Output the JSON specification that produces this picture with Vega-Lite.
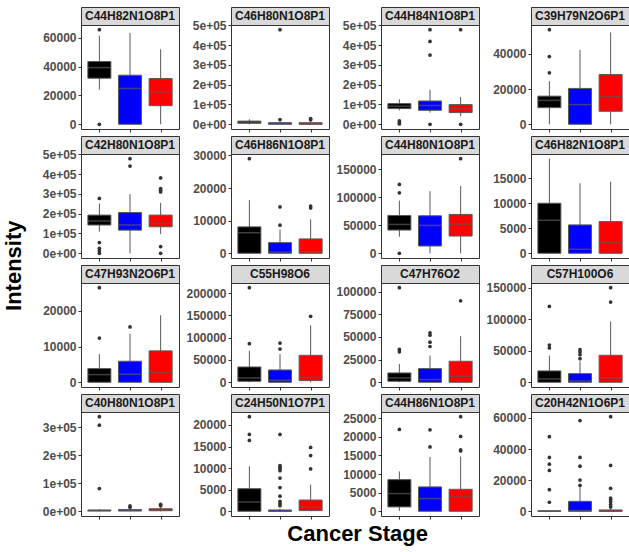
{
"$schema": "https://vega.github.io/schema/vega-lite/v6.json",
"padding": {"left": 2, "top": 6, "right": 2, "bottom": 2},
"background": "white",
"title": {"text": "Intensity", "orient": "left", "anchor": "middle", "font": "Liberation Sans", "fontSize": 22, "fontWeight": "bold", "color": "#000000", "offset": 16, "dx": 10},
"datasets": {"d": [
{"lipid":"C44H82N1O8P1","stage":"Stage I","lo":24000,"q1":32000,"med":39400,"q3":43600,"hi":61600},
{"lipid":"C44H82N1O8P1","stage":"Stage II","lo":0,"q1":0,"med":24900,"q3":34100,"hi":63500},
{"lipid":"C44H82N1O8P1","stage":"Stage III","lo":0,"q1":12900,"med":22600,"q3":31800,"hi":52100},
{"lipid":"C46H80N1O8P1","stage":"Stage I","lo":0,"q1":5000,"med":10000,"q3":16000,"hi":25000},
{"lipid":"C46H80N1O8P1","stage":"Stage II","lo":0,"q1":0,"med":4000,"q3":8000,"hi":14000},
{"lipid":"C46H80N1O8P1","stage":"Stage III","lo":0,"q1":0,"med":2000,"q3":8000,"hi":16000},
{"lipid":"C44H84N1O8P1","stage":"Stage I","lo":70000,"q1":79300,"med":91000,"q3":104500,"hi":126000},
{"lipid":"C44H84N1O8P1","stage":"Stage II","lo":59000,"q1":70700,"med":95000,"q3":117700,"hi":175000},
{"lipid":"C44H84N1O8P1","stage":"Stage III","lo":40000,"q1":59000,"med":77300,"q3":99500,"hi":138000},
{"lipid":"C39H79N2O6P1","stage":"Stage I","lo":0,"q1":9460,"med":13600,"q3":16000,"hi":24500},
{"lipid":"C39H79N2O6P1","stage":"Stage II","lo":0,"q1":0,"med":11200,"q3":20400,"hi":42300},
{"lipid":"C39H79N2O6P1","stage":"Stage III","lo":0,"q1":7400,"med":15700,"q3":28300,"hi":52300},
{"lipid":"C42H80N1O8P1","stage":"Stage I","lo":109000,"q1":143000,"med":163000,"q3":193000,"hi":252000},
{"lipid":"C42H80N1O8P1","stage":"Stage II","lo":0,"q1":117000,"med":143000,"q3":206000,"hi":299000},
{"lipid":"C42H80N1O8P1","stage":"Stage III","lo":97000,"q1":134000,"med":151000,"q3":193000,"hi":255000},
{"lipid":"C46H86N1O8P1","stage":"Stage I","lo":0,"q1":0,"med":6300,"q3":8100,"hi":16300},
{"lipid":"C46H86N1O8P1","stage":"Stage II","lo":0,"q1":0,"med":300,"q3":3260,"hi":7300},
{"lipid":"C46H86N1O8P1","stage":"Stage III","lo":0,"q1":0,"med":500,"q3":4400,"hi":10400},
{"lipid":"C44H80N1O8P1","stage":"Stage I","lo":29700,"q1":41500,"med":51600,"q3":67600,"hi":94300},
{"lipid":"C44H80N1O8P1","stage":"Stage II","lo":0,"q1":13000,"med":49800,"q3":67000,"hi":111000},
{"lipid":"C44H80N1O8P1","stage":"Stage III","lo":0,"q1":30800,"med":52200,"q3":69400,"hi":120400},
{"lipid":"C46H82N1O8P1","stage":"Stage I","lo":0,"q1":0,"med":6600,"q3":10000,"hi":18900},
{"lipid":"C46H82N1O8P1","stage":"Stage II","lo":0,"q1":0,"med":800,"q3":5670,"hi":14000},
{"lipid":"C46H82N1O8P1","stage":"Stage III","lo":0,"q1":0,"med":2130,"q3":6330,"hi":14300},
{"lipid":"C47H93N2O6P1","stage":"Stage I","lo":0,"q1":0,"med":2150,"q3":3830,"hi":7900},
{"lipid":"C47H93N2O6P1","stage":"Stage II","lo":0,"q1":0,"med":2240,"q3":5900,"hi":13600},
{"lipid":"C47H93N2O6P1","stage":"Stage III","lo":0,"q1":0,"med":2700,"q3":8800,"hi":18800},
{"lipid":"C55H98O6","stage":"Stage I","lo":0,"q1":2200,"med":9700,"q3":34300,"hi":70900},
{"lipid":"C55H98O6","stage":"Stage II","lo":0,"q1":0,"med":4500,"q3":27600,"hi":63400},
{"lipid":"C55H98O6","stage":"Stage III","lo":0,"q1":3700,"med":11000,"q3":60400,"hi":127600},
{"lipid":"C47H76O2","stage":"Stage I","lo":0,"q1":1100,"med":4800,"q3":10300,"hi":20300},
{"lipid":"C47H76O2","stage":"Stage II","lo":0,"q1":0,"med":3000,"q3":15100,"hi":29500},
{"lipid":"C47H76O2","stage":"Stage III","lo":0,"q1":0,"med":6600,"q3":23200,"hi":50900},
{"lipid":"C57H100O6","stage":"Stage I","lo":0,"q1":0,"med":5300,"q3":18000,"hi":42200},
{"lipid":"C57H100O6","stage":"Stage II","lo":0,"q1":0,"med":2000,"q3":13700,"hi":33300},
{"lipid":"C57H100O6","stage":"Stage III","lo":0,"q1":0,"med":6900,"q3":42800,"hi":96600},
{"lipid":"C40H80N1O8P1","stage":"Stage I","lo":0,"q1":1000,"med":2500,"q3":4500,"hi":8000},
{"lipid":"C40H80N1O8P1","stage":"Stage II","lo":0,"q1":1000,"med":3000,"q3":6000,"hi":10000},
{"lipid":"C40H80N1O8P1","stage":"Stage III","lo":0,"q1":2000,"med":4500,"q3":9000,"hi":15000},
{"lipid":"C24H50N1O7P1","stage":"Stage I","lo":0,"q1":0,"med":2150,"q3":5230,"hi":10400},
{"lipid":"C24H50N1O7P1","stage":"Stage II","lo":0,"q1":0,"med":0,"q3":300,"hi":600},
{"lipid":"C24H50N1O7P1","stage":"Stage III","lo":0,"q1":150,"med":900,"q3":2600,"hi":6150},
{"lipid":"C44H86N1O8P1","stage":"Stage I","lo":100,"q1":1170,"med":4750,"q3":8500,"hi":10700},
{"lipid":"C44H86N1O8P1","stage":"Stage II","lo":0,"q1":0,"med":3400,"q3":6540,"hi":14600},
{"lipid":"C44H86N1O8P1","stage":"Stage III","lo":0,"q1":0,"med":3850,"q3":5900,"hi":14700},
{"lipid":"C20H42N1O6P1","stage":"Stage I","lo":0,"q1":0,"med":0,"q3":300,"hi":700},
{"lipid":"C20H42N1O6P1","stage":"Stage II","lo":0,"q1":0,"med":400,"q3":6400,"hi":15400},
{"lipid":"C20H42N1O6P1","stage":"Stage III","lo":0,"q1":0,"med":0,"q3":850,"hi":2000},
{"lipid":"C44H82N1O8P1","stage":"Stage I","value":65700},
{"lipid":"C44H82N1O8P1","stage":"Stage I","value":0},
{"lipid":"C46H80N1O8P1","stage":"Stage II","value":478000},
{"lipid":"C46H80N1O8P1","stage":"Stage II","value":24000},
{"lipid":"C46H80N1O8P1","stage":"Stage III","value":23000},
{"lipid":"C46H80N1O8P1","stage":"Stage III","value":29000},
{"lipid":"C44H84N1O8P1","stage":"Stage I","value":16700},
{"lipid":"C44H84N1O8P1","stage":"Stage I","value":8000},
{"lipid":"C44H84N1O8P1","stage":"Stage I","value":1500},
{"lipid":"C44H84N1O8P1","stage":"Stage II","value":478000},
{"lipid":"C44H84N1O8P1","stage":"Stage II","value":419000},
{"lipid":"C44H84N1O8P1","stage":"Stage II","value":350000},
{"lipid":"C44H84N1O8P1","stage":"Stage II","value":0},
{"lipid":"C44H84N1O8P1","stage":"Stage III","value":478000},
{"lipid":"C44H84N1O8P1","stage":"Stage III","value":0},
{"lipid":"C39H79N2O6P1","stage":"Stage I","value":53800},
{"lipid":"C39H79N2O6P1","stage":"Stage I","value":38500},
{"lipid":"C39H79N2O6P1","stage":"Stage I","value":29300},
{"lipid":"C42H80N1O8P1","stage":"Stage I","value":277000},
{"lipid":"C42H80N1O8P1","stage":"Stage I","value":54000},
{"lipid":"C42H80N1O8P1","stage":"Stage I","value":25000},
{"lipid":"C42H80N1O8P1","stage":"Stage I","value":12000},
{"lipid":"C42H80N1O8P1","stage":"Stage I","value":0},
{"lipid":"C42H80N1O8P1","stage":"Stage II","value":478000},
{"lipid":"C42H80N1O8P1","stage":"Stage II","value":441000},
{"lipid":"C42H80N1O8P1","stage":"Stage III","value":381000},
{"lipid":"C42H80N1O8P1","stage":"Stage III","value":327000},
{"lipid":"C42H80N1O8P1","stage":"Stage III","value":319000},
{"lipid":"C42H80N1O8P1","stage":"Stage III","value":310000},
{"lipid":"C42H80N1O8P1","stage":"Stage III","value":34000},
{"lipid":"C42H80N1O8P1","stage":"Stage III","value":0},
{"lipid":"C46H86N1O8P1","stage":"Stage I","value":29000},
{"lipid":"C46H86N1O8P1","stage":"Stage II","value":8600},
{"lipid":"C46H86N1O8P1","stage":"Stage II","value":14200},
{"lipid":"C46H86N1O8P1","stage":"Stage III","value":13900},
{"lipid":"C46H86N1O8P1","stage":"Stage III","value":14500},
{"lipid":"C44H80N1O8P1","stage":"Stage I","value":123000},
{"lipid":"C44H80N1O8P1","stage":"Stage I","value":108000},
{"lipid":"C44H80N1O8P1","stage":"Stage I","value":0},
{"lipid":"C44H80N1O8P1","stage":"Stage III","value":169000},
{"lipid":"C47H93N2O6P1","stage":"Stage I","value":12400},
{"lipid":"C47H93N2O6P1","stage":"Stage I","value":26500},
{"lipid":"C47H93N2O6P1","stage":"Stage II","value":15500},
{"lipid":"C55H98O6","stage":"Stage I","value":86600},
{"lipid":"C55H98O6","stage":"Stage I","value":212000},
{"lipid":"C55H98O6","stage":"Stage II","value":74600},
{"lipid":"C55H98O6","stage":"Stage II","value":88000},
{"lipid":"C55H98O6","stage":"Stage III","value":147800},
{"lipid":"C47H76O2","stage":"Stage I","value":33600},
{"lipid":"C47H76O2","stage":"Stage I","value":36200},
{"lipid":"C47H76O2","stage":"Stage I","value":104400},
{"lipid":"C47H76O2","stage":"Stage II","value":39500},
{"lipid":"C47H76O2","stage":"Stage II","value":44300},
{"lipid":"C47H76O2","stage":"Stage II","value":52000},
{"lipid":"C47H76O2","stage":"Stage II","value":54600},
{"lipid":"C47H76O2","stage":"Stage III","value":90000},
{"lipid":"C57H100O6","stage":"Stage I","value":54400},
{"lipid":"C57H100O6","stage":"Stage I","value":59100},
{"lipid":"C57H100O6","stage":"Stage I","value":120400},
{"lipid":"C57H100O6","stage":"Stage II","value":37500},
{"lipid":"C57H100O6","stage":"Stage II","value":43800},
{"lipid":"C57H100O6","stage":"Stage II","value":48000},
{"lipid":"C57H100O6","stage":"Stage II","value":51700},
{"lipid":"C57H100O6","stage":"Stage III","value":127200},
{"lipid":"C57H100O6","stage":"Stage III","value":150000},
{"lipid":"C40H80N1O8P1","stage":"Stage I","value":81000},
{"lipid":"C40H80N1O8P1","stage":"Stage I","value":307000},
{"lipid":"C40H80N1O8P1","stage":"Stage I","value":337000},
{"lipid":"C40H80N1O8P1","stage":"Stage II","value":14000},
{"lipid":"C40H80N1O8P1","stage":"Stage II","value":19000},
{"lipid":"C40H80N1O8P1","stage":"Stage III","value":20000},
{"lipid":"C40H80N1O8P1","stage":"Stage III","value":25000},
{"lipid":"C24H50N1O7P1","stage":"Stage I","value":16400},
{"lipid":"C24H50N1O7P1","stage":"Stage I","value":17800},
{"lipid":"C24H50N1O7P1","stage":"Stage I","value":21900},
{"lipid":"C24H50N1O7P1","stage":"Stage II","value":1300},
{"lipid":"C24H50N1O7P1","stage":"Stage II","value":1800},
{"lipid":"C24H50N1O7P1","stage":"Stage II","value":2300},
{"lipid":"C24H50N1O7P1","stage":"Stage II","value":3500},
{"lipid":"C24H50N1O7P1","stage":"Stage II","value":5500},
{"lipid":"C24H50N1O7P1","stage":"Stage II","value":7700},
{"lipid":"C24H50N1O7P1","stage":"Stage II","value":9400},
{"lipid":"C24H50N1O7P1","stage":"Stage II","value":9800},
{"lipid":"C24H50N1O7P1","stage":"Stage II","value":10200},
{"lipid":"C24H50N1O7P1","stage":"Stage II","value":10600},
{"lipid":"C24H50N1O7P1","stage":"Stage II","value":17800},
{"lipid":"C24H50N1O7P1","stage":"Stage III","value":9800},
{"lipid":"C24H50N1O7P1","stage":"Stage III","value":12900},
{"lipid":"C24H50N1O7P1","stage":"Stage III","value":14800},
{"lipid":"C44H86N1O8P1","stage":"Stage I","value":22000},
{"lipid":"C44H86N1O8P1","stage":"Stage II","value":17300},
{"lipid":"C44H86N1O8P1","stage":"Stage II","value":21900},
{"lipid":"C44H86N1O8P1","stage":"Stage III","value":16200},
{"lipid":"C44H86N1O8P1","stage":"Stage III","value":16500},
{"lipid":"C44H86N1O8P1","stage":"Stage III","value":20100},
{"lipid":"C44H86N1O8P1","stage":"Stage III","value":25400},
{"lipid":"C20H42N1O6P1","stage":"Stage I","value":5800},
{"lipid":"C20H42N1O6P1","stage":"Stage I","value":13900},
{"lipid":"C20H42N1O6P1","stage":"Stage I","value":26300},
{"lipid":"C20H42N1O6P1","stage":"Stage I","value":30300},
{"lipid":"C20H42N1O6P1","stage":"Stage I","value":34600},
{"lipid":"C20H42N1O6P1","stage":"Stage I","value":48000},
{"lipid":"C20H42N1O6P1","stage":"Stage II","value":16600},
{"lipid":"C20H42N1O6P1","stage":"Stage II","value":20100},
{"lipid":"C20H42N1O6P1","stage":"Stage II","value":29000},
{"lipid":"C20H42N1O6P1","stage":"Stage II","value":34600},
{"lipid":"C20H42N1O6P1","stage":"Stage II","value":58300},
{"lipid":"C20H42N1O6P1","stage":"Stage III","value":2800},
{"lipid":"C20H42N1O6P1","stage":"Stage III","value":4300},
{"lipid":"C20H42N1O6P1","stage":"Stage III","value":6000},
{"lipid":"C20H42N1O6P1","stage":"Stage III","value":7500},
{"lipid":"C20H42N1O6P1","stage":"Stage III","value":8500},
{"lipid":"C20H42N1O6P1","stage":"Stage III","value":14800},
{"lipid":"C20H42N1O6P1","stage":"Stage III","value":29500},
{"lipid":"C20H42N1O6P1","stage":"Stage III","value":60800}
]},
"vconcat": [{
"title": {"text": "Cancer Stage", "orient": "bottom", "anchor": "middle", "font": "Liberation Sans", "fontSize": 22, "fontWeight": "bold", "color": "#000000", "offset": 4, "dx": 22},
"columns": 4,
"spacing": {"row": 2, "column": 5},
"concat": [
{"vconcat": [
 {"width": 98, "height": 18, "view": {"fill": "#d9d9d9", "stroke": "#333333"}, "data": {"name": "d"}, "transform": [{"filter": "datum.lipid === 'C44H82N1O8P1' && datum.stage === 'Stage I' && isValid(datum.med)"}], "mark": {"type": "text", "font": "Liberation Sans", "fontSize": 12, "fontWeight": "bold", "color": "#1a1a1a"}, "encoding": {"text": {"field": "lipid"}}},
 {"width": 98, "height": 104, "data": {"name": "d"}, "transform": [{"filter": "datum.lipid === 'C44H82N1O8P1'"}], "layer": [
  {"mark": {"type": "rule", "color": "#595959"}, "encoding": {"x": {"field": "stage", "type": "nominal", "scale": {"type": "point", "padding": 0.6, "domain": ["Stage I", "Stage II", "Stage III"]}, "axis": {"title": null}}, "y": {"field": "lo", "type": "quantitative", "scale": {"domain": [-3285, 68985], "nice": false, "zero": false}, "axis": {"title": null, "tickCount": 20, "labelOverlap": false, "values": [0, 20000, 40000, 60000], "format": "d"}}, "y2": {"field": "hi"}}},
  {"mark": {"type": "bar", "size": 23, "stroke": "#595959", "strokeWidth": 1}, "encoding": {"x": {"field": "stage", "type": "nominal"}, "y": {"field": "q1", "type": "quantitative"}, "y2": {"field": "q3"}, "fill": {"field": "stage", "type": "nominal", "scale": {"domain": ["Stage I", "Stage II", "Stage III"], "range": ["#000000", "#0000ff", "#ff0000"]}, "legend": null}}},
  {"mark": {"type": "tick", "size": 23, "thickness": 1.5, "color": "#595959"}, "encoding": {"x": {"field": "stage", "type": "nominal"}, "y": {"field": "med", "type": "quantitative"}}},
  {"mark": {"type": "point", "filled": true, "size": 14, "color": "#333333", "opacity": 1}, "encoding": {"x": {"field": "stage", "type": "nominal"}, "y": {"field": "value", "type": "quantitative"}}}
 ]}
], "spacing": 0, "bounds": "flush"},
{"vconcat": [
 {"width": 98, "height": 18, "view": {"fill": "#d9d9d9", "stroke": "#333333"}, "data": {"name": "d"}, "transform": [{"filter": "datum.lipid === 'C46H80N1O8P1' && datum.stage === 'Stage I' && isValid(datum.med)"}], "mark": {"type": "text", "font": "Liberation Sans", "fontSize": 12, "fontWeight": "bold", "color": "#1a1a1a"}, "encoding": {"text": {"field": "lipid"}}},
 {"width": 98, "height": 104, "data": {"name": "d"}, "transform": [{"filter": "datum.lipid === 'C46H80N1O8P1'"}], "layer": [
  {"mark": {"type": "rule", "color": "#595959"}, "encoding": {"x": {"field": "stage", "type": "nominal", "scale": {"type": "point", "padding": 0.6, "domain": ["Stage I", "Stage II", "Stage III"]}, "axis": {"title": null}}, "y": {"field": "lo", "type": "quantitative", "scale": {"domain": [-23900, 501900], "nice": false, "zero": false}, "axis": {"title": null, "tickCount": 20, "labelOverlap": false, "values": [0, 100000, 200000, 300000, 400000, 500000], "labelExpr": "datum.value === 0 ? '0e+00' : (datum.value / 100000) + 'e+05'"}}, "y2": {"field": "hi"}}},
  {"mark": {"type": "bar", "size": 23, "stroke": "#595959", "strokeWidth": 1}, "encoding": {"x": {"field": "stage", "type": "nominal"}, "y": {"field": "q1", "type": "quantitative"}, "y2": {"field": "q3"}, "fill": {"field": "stage", "type": "nominal", "scale": {"domain": ["Stage I", "Stage II", "Stage III"], "range": ["#000000", "#0000ff", "#ff0000"]}, "legend": null}}},
  {"mark": {"type": "tick", "size": 23, "thickness": 1.5, "color": "#595959"}, "encoding": {"x": {"field": "stage", "type": "nominal"}, "y": {"field": "med", "type": "quantitative"}}},
  {"mark": {"type": "point", "filled": true, "size": 14, "color": "#333333", "opacity": 1}, "encoding": {"x": {"field": "stage", "type": "nominal"}, "y": {"field": "value", "type": "quantitative"}}}
 ]}
], "spacing": 0, "bounds": "flush"},
{"vconcat": [
 {"width": 98, "height": 18, "view": {"fill": "#d9d9d9", "stroke": "#333333"}, "data": {"name": "d"}, "transform": [{"filter": "datum.lipid === 'C44H84N1O8P1' && datum.stage === 'Stage I' && isValid(datum.med)"}], "mark": {"type": "text", "font": "Liberation Sans", "fontSize": 12, "fontWeight": "bold", "color": "#1a1a1a"}, "encoding": {"text": {"field": "lipid"}}},
 {"width": 98, "height": 104, "data": {"name": "d"}, "transform": [{"filter": "datum.lipid === 'C44H84N1O8P1'"}], "layer": [
  {"mark": {"type": "rule", "color": "#595959"}, "encoding": {"x": {"field": "stage", "type": "nominal", "scale": {"type": "point", "padding": 0.6, "domain": ["Stage I", "Stage II", "Stage III"]}, "axis": {"title": null}}, "y": {"field": "lo", "type": "quantitative", "scale": {"domain": [-23900, 501900], "nice": false, "zero": false}, "axis": {"title": null, "tickCount": 20, "labelOverlap": false, "values": [0, 100000, 200000, 300000, 400000, 500000], "labelExpr": "datum.value === 0 ? '0e+00' : (datum.value / 100000) + 'e+05'"}}, "y2": {"field": "hi"}}},
  {"mark": {"type": "bar", "size": 23, "stroke": "#595959", "strokeWidth": 1}, "encoding": {"x": {"field": "stage", "type": "nominal"}, "y": {"field": "q1", "type": "quantitative"}, "y2": {"field": "q3"}, "fill": {"field": "stage", "type": "nominal", "scale": {"domain": ["Stage I", "Stage II", "Stage III"], "range": ["#000000", "#0000ff", "#ff0000"]}, "legend": null}}},
  {"mark": {"type": "tick", "size": 23, "thickness": 1.5, "color": "#595959"}, "encoding": {"x": {"field": "stage", "type": "nominal"}, "y": {"field": "med", "type": "quantitative"}}},
  {"mark": {"type": "point", "filled": true, "size": 14, "color": "#333333", "opacity": 1}, "encoding": {"x": {"field": "stage", "type": "nominal"}, "y": {"field": "value", "type": "quantitative"}}}
 ]}
], "spacing": 0, "bounds": "flush"},
{"vconcat": [
 {"width": 98, "height": 18, "view": {"fill": "#d9d9d9", "stroke": "#333333"}, "data": {"name": "d"}, "transform": [{"filter": "datum.lipid === 'C39H79N2O6P1' && datum.stage === 'Stage I' && isValid(datum.med)"}], "mark": {"type": "text", "font": "Liberation Sans", "fontSize": 12, "fontWeight": "bold", "color": "#1a1a1a"}, "encoding": {"text": {"field": "lipid"}}},
 {"width": 98, "height": 104, "data": {"name": "d"}, "transform": [{"filter": "datum.lipid === 'C39H79N2O6P1'"}], "layer": [
  {"mark": {"type": "rule", "color": "#595959"}, "encoding": {"x": {"field": "stage", "type": "nominal", "scale": {"type": "point", "padding": 0.6, "domain": ["Stage I", "Stage II", "Stage III"]}, "axis": {"title": null}}, "y": {"field": "lo", "type": "quantitative", "scale": {"domain": [-2690, 56490], "nice": false, "zero": false}, "axis": {"title": null, "tickCount": 20, "labelOverlap": false, "values": [0, 20000, 40000], "format": "d"}}, "y2": {"field": "hi"}}},
  {"mark": {"type": "bar", "size": 23, "stroke": "#595959", "strokeWidth": 1}, "encoding": {"x": {"field": "stage", "type": "nominal"}, "y": {"field": "q1", "type": "quantitative"}, "y2": {"field": "q3"}, "fill": {"field": "stage", "type": "nominal", "scale": {"domain": ["Stage I", "Stage II", "Stage III"], "range": ["#000000", "#0000ff", "#ff0000"]}, "legend": null}}},
  {"mark": {"type": "tick", "size": 23, "thickness": 1.5, "color": "#595959"}, "encoding": {"x": {"field": "stage", "type": "nominal"}, "y": {"field": "med", "type": "quantitative"}}},
  {"mark": {"type": "point", "filled": true, "size": 14, "color": "#333333", "opacity": 1}, "encoding": {"x": {"field": "stage", "type": "nominal"}, "y": {"field": "value", "type": "quantitative"}}}
 ]}
], "spacing": 0, "bounds": "flush"},
{"vconcat": [
 {"width": 98, "height": 18, "view": {"fill": "#d9d9d9", "stroke": "#333333"}, "data": {"name": "d"}, "transform": [{"filter": "datum.lipid === 'C42H80N1O8P1' && datum.stage === 'Stage I' && isValid(datum.med)"}], "mark": {"type": "text", "font": "Liberation Sans", "fontSize": 12, "fontWeight": "bold", "color": "#1a1a1a"}, "encoding": {"text": {"field": "lipid"}}},
 {"width": 98, "height": 104, "data": {"name": "d"}, "transform": [{"filter": "datum.lipid === 'C42H80N1O8P1'"}], "layer": [
  {"mark": {"type": "rule", "color": "#595959"}, "encoding": {"x": {"field": "stage", "type": "nominal", "scale": {"type": "point", "padding": 0.6, "domain": ["Stage I", "Stage II", "Stage III"]}, "axis": {"title": null}}, "y": {"field": "lo", "type": "quantitative", "scale": {"domain": [-23900, 501900], "nice": false, "zero": false}, "axis": {"title": null, "tickCount": 20, "labelOverlap": false, "values": [0, 100000, 200000, 300000, 400000, 500000], "labelExpr": "datum.value === 0 ? '0e+00' : (datum.value / 100000) + 'e+05'"}}, "y2": {"field": "hi"}}},
  {"mark": {"type": "bar", "size": 23, "stroke": "#595959", "strokeWidth": 1}, "encoding": {"x": {"field": "stage", "type": "nominal"}, "y": {"field": "q1", "type": "quantitative"}, "y2": {"field": "q3"}, "fill": {"field": "stage", "type": "nominal", "scale": {"domain": ["Stage I", "Stage II", "Stage III"], "range": ["#000000", "#0000ff", "#ff0000"]}, "legend": null}}},
  {"mark": {"type": "tick", "size": 23, "thickness": 1.5, "color": "#595959"}, "encoding": {"x": {"field": "stage", "type": "nominal"}, "y": {"field": "med", "type": "quantitative"}}},
  {"mark": {"type": "point", "filled": true, "size": 14, "color": "#333333", "opacity": 1}, "encoding": {"x": {"field": "stage", "type": "nominal"}, "y": {"field": "value", "type": "quantitative"}}}
 ]}
], "spacing": 0, "bounds": "flush"},
{"vconcat": [
 {"width": 98, "height": 18, "view": {"fill": "#d9d9d9", "stroke": "#333333"}, "data": {"name": "d"}, "transform": [{"filter": "datum.lipid === 'C46H86N1O8P1' && datum.stage === 'Stage I' && isValid(datum.med)"}], "mark": {"type": "text", "font": "Liberation Sans", "fontSize": 12, "fontWeight": "bold", "color": "#1a1a1a"}, "encoding": {"text": {"field": "lipid"}}},
 {"width": 98, "height": 104, "data": {"name": "d"}, "transform": [{"filter": "datum.lipid === 'C46H86N1O8P1'"}], "layer": [
  {"mark": {"type": "rule", "color": "#595959"}, "encoding": {"x": {"field": "stage", "type": "nominal", "scale": {"type": "point", "padding": 0.6, "domain": ["Stage I", "Stage II", "Stage III"]}, "axis": {"title": null}}, "y": {"field": "lo", "type": "quantitative", "scale": {"domain": [-1450, 30450], "nice": false, "zero": false}, "axis": {"title": null, "tickCount": 20, "labelOverlap": false, "values": [0, 10000, 20000, 30000], "format": "d"}}, "y2": {"field": "hi"}}},
  {"mark": {"type": "bar", "size": 23, "stroke": "#595959", "strokeWidth": 1}, "encoding": {"x": {"field": "stage", "type": "nominal"}, "y": {"field": "q1", "type": "quantitative"}, "y2": {"field": "q3"}, "fill": {"field": "stage", "type": "nominal", "scale": {"domain": ["Stage I", "Stage II", "Stage III"], "range": ["#000000", "#0000ff", "#ff0000"]}, "legend": null}}},
  {"mark": {"type": "tick", "size": 23, "thickness": 1.5, "color": "#595959"}, "encoding": {"x": {"field": "stage", "type": "nominal"}, "y": {"field": "med", "type": "quantitative"}}},
  {"mark": {"type": "point", "filled": true, "size": 14, "color": "#333333", "opacity": 1}, "encoding": {"x": {"field": "stage", "type": "nominal"}, "y": {"field": "value", "type": "quantitative"}}}
 ]}
], "spacing": 0, "bounds": "flush"},
{"vconcat": [
 {"width": 98, "height": 18, "view": {"fill": "#d9d9d9", "stroke": "#333333"}, "data": {"name": "d"}, "transform": [{"filter": "datum.lipid === 'C44H80N1O8P1' && datum.stage === 'Stage I' && isValid(datum.med)"}], "mark": {"type": "text", "font": "Liberation Sans", "fontSize": 12, "fontWeight": "bold", "color": "#1a1a1a"}, "encoding": {"text": {"field": "lipid"}}},
 {"width": 98, "height": 104, "data": {"name": "d"}, "transform": [{"filter": "datum.lipid === 'C44H80N1O8P1'"}], "layer": [
  {"mark": {"type": "rule", "color": "#595959"}, "encoding": {"x": {"field": "stage", "type": "nominal", "scale": {"type": "point", "padding": 0.6, "domain": ["Stage I", "Stage II", "Stage III"]}, "axis": {"title": null}}, "y": {"field": "lo", "type": "quantitative", "scale": {"domain": [-8450, 177450], "nice": false, "zero": false}, "axis": {"title": null, "tickCount": 20, "labelOverlap": false, "values": [0, 50000, 100000, 150000], "format": "d"}}, "y2": {"field": "hi"}}},
  {"mark": {"type": "bar", "size": 23, "stroke": "#595959", "strokeWidth": 1}, "encoding": {"x": {"field": "stage", "type": "nominal"}, "y": {"field": "q1", "type": "quantitative"}, "y2": {"field": "q3"}, "fill": {"field": "stage", "type": "nominal", "scale": {"domain": ["Stage I", "Stage II", "Stage III"], "range": ["#000000", "#0000ff", "#ff0000"]}, "legend": null}}},
  {"mark": {"type": "tick", "size": 23, "thickness": 1.5, "color": "#595959"}, "encoding": {"x": {"field": "stage", "type": "nominal"}, "y": {"field": "med", "type": "quantitative"}}},
  {"mark": {"type": "point", "filled": true, "size": 14, "color": "#333333", "opacity": 1}, "encoding": {"x": {"field": "stage", "type": "nominal"}, "y": {"field": "value", "type": "quantitative"}}}
 ]}
], "spacing": 0, "bounds": "flush"},
{"vconcat": [
 {"width": 98, "height": 18, "view": {"fill": "#d9d9d9", "stroke": "#333333"}, "data": {"name": "d"}, "transform": [{"filter": "datum.lipid === 'C46H82N1O8P1' && datum.stage === 'Stage I' && isValid(datum.med)"}], "mark": {"type": "text", "font": "Liberation Sans", "fontSize": 12, "fontWeight": "bold", "color": "#1a1a1a"}, "encoding": {"text": {"field": "lipid"}}},
 {"width": 98, "height": 104, "data": {"name": "d"}, "transform": [{"filter": "datum.lipid === 'C46H82N1O8P1'"}], "layer": [
  {"mark": {"type": "rule", "color": "#595959"}, "encoding": {"x": {"field": "stage", "type": "nominal", "scale": {"type": "point", "padding": 0.6, "domain": ["Stage I", "Stage II", "Stage III"]}, "axis": {"title": null}}, "y": {"field": "lo", "type": "quantitative", "scale": {"domain": [-945, 19845], "nice": false, "zero": false}, "axis": {"title": null, "tickCount": 20, "labelOverlap": false, "values": [0, 5000, 10000, 15000], "format": "d"}}, "y2": {"field": "hi"}}},
  {"mark": {"type": "bar", "size": 23, "stroke": "#595959", "strokeWidth": 1}, "encoding": {"x": {"field": "stage", "type": "nominal"}, "y": {"field": "q1", "type": "quantitative"}, "y2": {"field": "q3"}, "fill": {"field": "stage", "type": "nominal", "scale": {"domain": ["Stage I", "Stage II", "Stage III"], "range": ["#000000", "#0000ff", "#ff0000"]}, "legend": null}}},
  {"mark": {"type": "tick", "size": 23, "thickness": 1.5, "color": "#595959"}, "encoding": {"x": {"field": "stage", "type": "nominal"}, "y": {"field": "med", "type": "quantitative"}}},
  {"mark": {"type": "point", "filled": true, "size": 14, "color": "#333333", "opacity": 1}, "encoding": {"x": {"field": "stage", "type": "nominal"}, "y": {"field": "value", "type": "quantitative"}}}
 ]}
], "spacing": 0, "bounds": "flush"},
{"vconcat": [
 {"width": 98, "height": 18, "view": {"fill": "#d9d9d9", "stroke": "#333333"}, "data": {"name": "d"}, "transform": [{"filter": "datum.lipid === 'C47H93N2O6P1' && datum.stage === 'Stage I' && isValid(datum.med)"}], "mark": {"type": "text", "font": "Liberation Sans", "fontSize": 12, "fontWeight": "bold", "color": "#1a1a1a"}, "encoding": {"text": {"field": "lipid"}}},
 {"width": 98, "height": 104, "data": {"name": "d"}, "transform": [{"filter": "datum.lipid === 'C47H93N2O6P1'"}], "layer": [
  {"mark": {"type": "rule", "color": "#595959"}, "encoding": {"x": {"field": "stage", "type": "nominal", "scale": {"type": "point", "padding": 0.6, "domain": ["Stage I", "Stage II", "Stage III"]}, "axis": {"title": null}}, "y": {"field": "lo", "type": "quantitative", "scale": {"domain": [-1325, 27825], "nice": false, "zero": false}, "axis": {"title": null, "tickCount": 20, "labelOverlap": false, "values": [0, 10000, 20000], "format": "d"}}, "y2": {"field": "hi"}}},
  {"mark": {"type": "bar", "size": 23, "stroke": "#595959", "strokeWidth": 1}, "encoding": {"x": {"field": "stage", "type": "nominal"}, "y": {"field": "q1", "type": "quantitative"}, "y2": {"field": "q3"}, "fill": {"field": "stage", "type": "nominal", "scale": {"domain": ["Stage I", "Stage II", "Stage III"], "range": ["#000000", "#0000ff", "#ff0000"]}, "legend": null}}},
  {"mark": {"type": "tick", "size": 23, "thickness": 1.5, "color": "#595959"}, "encoding": {"x": {"field": "stage", "type": "nominal"}, "y": {"field": "med", "type": "quantitative"}}},
  {"mark": {"type": "point", "filled": true, "size": 14, "color": "#333333", "opacity": 1}, "encoding": {"x": {"field": "stage", "type": "nominal"}, "y": {"field": "value", "type": "quantitative"}}}
 ]}
], "spacing": 0, "bounds": "flush"},
{"vconcat": [
 {"width": 98, "height": 18, "view": {"fill": "#d9d9d9", "stroke": "#333333"}, "data": {"name": "d"}, "transform": [{"filter": "datum.lipid === 'C55H98O6' && datum.stage === 'Stage I' && isValid(datum.med)"}], "mark": {"type": "text", "font": "Liberation Sans", "fontSize": 12, "fontWeight": "bold", "color": "#1a1a1a"}, "encoding": {"text": {"field": "lipid"}}},
 {"width": 98, "height": 104, "data": {"name": "d"}, "transform": [{"filter": "datum.lipid === 'C55H98O6'"}], "layer": [
  {"mark": {"type": "rule", "color": "#595959"}, "encoding": {"x": {"field": "stage", "type": "nominal", "scale": {"type": "point", "padding": 0.6, "domain": ["Stage I", "Stage II", "Stage III"]}, "axis": {"title": null}}, "y": {"field": "lo", "type": "quantitative", "scale": {"domain": [-10600, 222600], "nice": false, "zero": false}, "axis": {"title": null, "tickCount": 20, "labelOverlap": false, "values": [0, 50000, 100000, 150000, 200000], "format": "d"}}, "y2": {"field": "hi"}}},
  {"mark": {"type": "bar", "size": 23, "stroke": "#595959", "strokeWidth": 1}, "encoding": {"x": {"field": "stage", "type": "nominal"}, "y": {"field": "q1", "type": "quantitative"}, "y2": {"field": "q3"}, "fill": {"field": "stage", "type": "nominal", "scale": {"domain": ["Stage I", "Stage II", "Stage III"], "range": ["#000000", "#0000ff", "#ff0000"]}, "legend": null}}},
  {"mark": {"type": "tick", "size": 23, "thickness": 1.5, "color": "#595959"}, "encoding": {"x": {"field": "stage", "type": "nominal"}, "y": {"field": "med", "type": "quantitative"}}},
  {"mark": {"type": "point", "filled": true, "size": 14, "color": "#333333", "opacity": 1}, "encoding": {"x": {"field": "stage", "type": "nominal"}, "y": {"field": "value", "type": "quantitative"}}}
 ]}
], "spacing": 0, "bounds": "flush"},
{"vconcat": [
 {"width": 98, "height": 18, "view": {"fill": "#d9d9d9", "stroke": "#333333"}, "data": {"name": "d"}, "transform": [{"filter": "datum.lipid === 'C47H76O2' && datum.stage === 'Stage I' && isValid(datum.med)"}], "mark": {"type": "text", "font": "Liberation Sans", "fontSize": 12, "fontWeight": "bold", "color": "#1a1a1a"}, "encoding": {"text": {"field": "lipid"}}},
 {"width": 98, "height": 104, "data": {"name": "d"}, "transform": [{"filter": "datum.lipid === 'C47H76O2'"}], "layer": [
  {"mark": {"type": "rule", "color": "#595959"}, "encoding": {"x": {"field": "stage", "type": "nominal", "scale": {"type": "point", "padding": 0.6, "domain": ["Stage I", "Stage II", "Stage III"]}, "axis": {"title": null}}, "y": {"field": "lo", "type": "quantitative", "scale": {"domain": [-5220, 109620], "nice": false, "zero": false}, "axis": {"title": null, "tickCount": 20, "labelOverlap": false, "values": [0, 25000, 50000, 75000, 100000], "format": "d"}}, "y2": {"field": "hi"}}},
  {"mark": {"type": "bar", "size": 23, "stroke": "#595959", "strokeWidth": 1}, "encoding": {"x": {"field": "stage", "type": "nominal"}, "y": {"field": "q1", "type": "quantitative"}, "y2": {"field": "q3"}, "fill": {"field": "stage", "type": "nominal", "scale": {"domain": ["Stage I", "Stage II", "Stage III"], "range": ["#000000", "#0000ff", "#ff0000"]}, "legend": null}}},
  {"mark": {"type": "tick", "size": 23, "thickness": 1.5, "color": "#595959"}, "encoding": {"x": {"field": "stage", "type": "nominal"}, "y": {"field": "med", "type": "quantitative"}}},
  {"mark": {"type": "point", "filled": true, "size": 14, "color": "#333333", "opacity": 1}, "encoding": {"x": {"field": "stage", "type": "nominal"}, "y": {"field": "value", "type": "quantitative"}}}
 ]}
], "spacing": 0, "bounds": "flush"},
{"vconcat": [
 {"width": 98, "height": 18, "view": {"fill": "#d9d9d9", "stroke": "#333333"}, "data": {"name": "d"}, "transform": [{"filter": "datum.lipid === 'C57H100O6' && datum.stage === 'Stage I' && isValid(datum.med)"}], "mark": {"type": "text", "font": "Liberation Sans", "fontSize": 12, "fontWeight": "bold", "color": "#1a1a1a"}, "encoding": {"text": {"field": "lipid"}}},
 {"width": 98, "height": 104, "data": {"name": "d"}, "transform": [{"filter": "datum.lipid === 'C57H100O6'"}], "layer": [
  {"mark": {"type": "rule", "color": "#595959"}, "encoding": {"x": {"field": "stage", "type": "nominal", "scale": {"type": "point", "padding": 0.6, "domain": ["Stage I", "Stage II", "Stage III"]}, "axis": {"title": null}}, "y": {"field": "lo", "type": "quantitative", "scale": {"domain": [-7500, 157500], "nice": false, "zero": false}, "axis": {"title": null, "tickCount": 20, "labelOverlap": false, "values": [0, 50000, 100000, 150000], "format": "d"}}, "y2": {"field": "hi"}}},
  {"mark": {"type": "bar", "size": 23, "stroke": "#595959", "strokeWidth": 1}, "encoding": {"x": {"field": "stage", "type": "nominal"}, "y": {"field": "q1", "type": "quantitative"}, "y2": {"field": "q3"}, "fill": {"field": "stage", "type": "nominal", "scale": {"domain": ["Stage I", "Stage II", "Stage III"], "range": ["#000000", "#0000ff", "#ff0000"]}, "legend": null}}},
  {"mark": {"type": "tick", "size": 23, "thickness": 1.5, "color": "#595959"}, "encoding": {"x": {"field": "stage", "type": "nominal"}, "y": {"field": "med", "type": "quantitative"}}},
  {"mark": {"type": "point", "filled": true, "size": 14, "color": "#333333", "opacity": 1}, "encoding": {"x": {"field": "stage", "type": "nominal"}, "y": {"field": "value", "type": "quantitative"}}}
 ]}
], "spacing": 0, "bounds": "flush"},
{"vconcat": [
 {"width": 98, "height": 18, "view": {"fill": "#d9d9d9", "stroke": "#333333"}, "data": {"name": "d"}, "transform": [{"filter": "datum.lipid === 'C40H80N1O8P1' && datum.stage === 'Stage I' && isValid(datum.med)"}], "mark": {"type": "text", "font": "Liberation Sans", "fontSize": 12, "fontWeight": "bold", "color": "#1a1a1a"}, "encoding": {"text": {"field": "lipid"}}},
 {"width": 98, "height": 104, "data": {"name": "d"}, "transform": [{"filter": "datum.lipid === 'C40H80N1O8P1'"}], "layer": [
  {"mark": {"type": "rule", "color": "#595959"}, "encoding": {"x": {"field": "stage", "type": "nominal", "scale": {"type": "point", "padding": 0.6, "domain": ["Stage I", "Stage II", "Stage III"]}, "axis": {"title": null}}, "y": {"field": "lo", "type": "quantitative", "scale": {"domain": [-16850, 353850], "nice": false, "zero": false}, "axis": {"title": null, "tickCount": 20, "labelOverlap": false, "values": [0, 100000, 200000, 300000], "labelExpr": "datum.value === 0 ? '0e+00' : (datum.value / 100000) + 'e+05'"}}, "y2": {"field": "hi"}}},
  {"mark": {"type": "bar", "size": 23, "stroke": "#595959", "strokeWidth": 1}, "encoding": {"x": {"field": "stage", "type": "nominal"}, "y": {"field": "q1", "type": "quantitative"}, "y2": {"field": "q3"}, "fill": {"field": "stage", "type": "nominal", "scale": {"domain": ["Stage I", "Stage II", "Stage III"], "range": ["#000000", "#0000ff", "#ff0000"]}, "legend": null}}},
  {"mark": {"type": "tick", "size": 23, "thickness": 1.5, "color": "#595959"}, "encoding": {"x": {"field": "stage", "type": "nominal"}, "y": {"field": "med", "type": "quantitative"}}},
  {"mark": {"type": "point", "filled": true, "size": 14, "color": "#333333", "opacity": 1}, "encoding": {"x": {"field": "stage", "type": "nominal"}, "y": {"field": "value", "type": "quantitative"}}}
 ]}
], "spacing": 0, "bounds": "flush"},
{"vconcat": [
 {"width": 98, "height": 18, "view": {"fill": "#d9d9d9", "stroke": "#333333"}, "data": {"name": "d"}, "transform": [{"filter": "datum.lipid === 'C24H50N1O7P1' && datum.stage === 'Stage I' && isValid(datum.med)"}], "mark": {"type": "text", "font": "Liberation Sans", "fontSize": 12, "fontWeight": "bold", "color": "#1a1a1a"}, "encoding": {"text": {"field": "lipid"}}},
 {"width": 98, "height": 104, "data": {"name": "d"}, "transform": [{"filter": "datum.lipid === 'C24H50N1O7P1'"}], "layer": [
  {"mark": {"type": "rule", "color": "#595959"}, "encoding": {"x": {"field": "stage", "type": "nominal", "scale": {"type": "point", "padding": 0.6, "domain": ["Stage I", "Stage II", "Stage III"]}, "axis": {"title": null}}, "y": {"field": "lo", "type": "quantitative", "scale": {"domain": [-1095, 22995], "nice": false, "zero": false}, "axis": {"title": null, "tickCount": 20, "labelOverlap": false, "values": [0, 5000, 10000, 15000, 20000], "format": "d"}}, "y2": {"field": "hi"}}},
  {"mark": {"type": "bar", "size": 23, "stroke": "#595959", "strokeWidth": 1}, "encoding": {"x": {"field": "stage", "type": "nominal"}, "y": {"field": "q1", "type": "quantitative"}, "y2": {"field": "q3"}, "fill": {"field": "stage", "type": "nominal", "scale": {"domain": ["Stage I", "Stage II", "Stage III"], "range": ["#000000", "#0000ff", "#ff0000"]}, "legend": null}}},
  {"mark": {"type": "tick", "size": 23, "thickness": 1.5, "color": "#595959"}, "encoding": {"x": {"field": "stage", "type": "nominal"}, "y": {"field": "med", "type": "quantitative"}}},
  {"mark": {"type": "point", "filled": true, "size": 14, "color": "#333333", "opacity": 1}, "encoding": {"x": {"field": "stage", "type": "nominal"}, "y": {"field": "value", "type": "quantitative"}}}
 ]}
], "spacing": 0, "bounds": "flush"},
{"vconcat": [
 {"width": 98, "height": 18, "view": {"fill": "#d9d9d9", "stroke": "#333333"}, "data": {"name": "d"}, "transform": [{"filter": "datum.lipid === 'C44H86N1O8P1' && datum.stage === 'Stage I' && isValid(datum.med)"}], "mark": {"type": "text", "font": "Liberation Sans", "fontSize": 12, "fontWeight": "bold", "color": "#1a1a1a"}, "encoding": {"text": {"field": "lipid"}}},
 {"width": 98, "height": 104, "data": {"name": "d"}, "transform": [{"filter": "datum.lipid === 'C44H86N1O8P1'"}], "layer": [
  {"mark": {"type": "rule", "color": "#595959"}, "encoding": {"x": {"field": "stage", "type": "nominal", "scale": {"type": "point", "padding": 0.6, "domain": ["Stage I", "Stage II", "Stage III"]}, "axis": {"title": null}}, "y": {"field": "lo", "type": "quantitative", "scale": {"domain": [-1270, 26670], "nice": false, "zero": false}, "axis": {"title": null, "tickCount": 20, "labelOverlap": false, "values": [0, 5000, 10000, 15000, 20000, 25000], "format": "d"}}, "y2": {"field": "hi"}}},
  {"mark": {"type": "bar", "size": 23, "stroke": "#595959", "strokeWidth": 1}, "encoding": {"x": {"field": "stage", "type": "nominal"}, "y": {"field": "q1", "type": "quantitative"}, "y2": {"field": "q3"}, "fill": {"field": "stage", "type": "nominal", "scale": {"domain": ["Stage I", "Stage II", "Stage III"], "range": ["#000000", "#0000ff", "#ff0000"]}, "legend": null}}},
  {"mark": {"type": "tick", "size": 23, "thickness": 1.5, "color": "#595959"}, "encoding": {"x": {"field": "stage", "type": "nominal"}, "y": {"field": "med", "type": "quantitative"}}},
  {"mark": {"type": "point", "filled": true, "size": 14, "color": "#333333", "opacity": 1}, "encoding": {"x": {"field": "stage", "type": "nominal"}, "y": {"field": "value", "type": "quantitative"}}}
 ]}
], "spacing": 0, "bounds": "flush"},
{"vconcat": [
 {"width": 98, "height": 18, "view": {"fill": "#d9d9d9", "stroke": "#333333"}, "data": {"name": "d"}, "transform": [{"filter": "datum.lipid === 'C20H42N1O6P1' && datum.stage === 'Stage I' && isValid(datum.med)"}], "mark": {"type": "text", "font": "Liberation Sans", "fontSize": 12, "fontWeight": "bold", "color": "#1a1a1a"}, "encoding": {"text": {"field": "lipid"}}},
 {"width": 98, "height": 104, "data": {"name": "d"}, "transform": [{"filter": "datum.lipid === 'C20H42N1O6P1'"}], "layer": [
  {"mark": {"type": "rule", "color": "#595959"}, "encoding": {"x": {"field": "stage", "type": "nominal", "scale": {"type": "point", "padding": 0.6, "domain": ["Stage I", "Stage II", "Stage III"]}, "axis": {"title": null}}, "y": {"field": "lo", "type": "quantitative", "scale": {"domain": [-3040, 63840], "nice": false, "zero": false}, "axis": {"title": null, "tickCount": 20, "labelOverlap": false, "values": [0, 20000, 40000, 60000], "format": "d"}}, "y2": {"field": "hi"}}},
  {"mark": {"type": "bar", "size": 23, "stroke": "#595959", "strokeWidth": 1}, "encoding": {"x": {"field": "stage", "type": "nominal"}, "y": {"field": "q1", "type": "quantitative"}, "y2": {"field": "q3"}, "fill": {"field": "stage", "type": "nominal", "scale": {"domain": ["Stage I", "Stage II", "Stage III"], "range": ["#000000", "#0000ff", "#ff0000"]}, "legend": null}}},
  {"mark": {"type": "tick", "size": 23, "thickness": 1.5, "color": "#595959"}, "encoding": {"x": {"field": "stage", "type": "nominal"}, "y": {"field": "med", "type": "quantitative"}}},
  {"mark": {"type": "point", "filled": true, "size": 14, "color": "#333333", "opacity": 1}, "encoding": {"x": {"field": "stage", "type": "nominal"}, "y": {"field": "value", "type": "quantitative"}}}
 ]}
], "spacing": 0, "bounds": "flush"}
]
}],
"config": {
 "view": {"stroke": "#333333", "strokeWidth": 1},
 "axisX": {"labels": false, "ticks": true, "tickSize": 3, "tickColor": "#333333", "tickWidth": 1, "domain": false, "grid": false},
 "axisY": {"labelFont": "Liberation Sans", "labelFontSize": 12, "labelFontWeight": "bold", "labelColor": "#4d4d4d", "tickSize": 3, "tickColor": "#333333", "tickWidth": 1, "domain": false, "grid": false, "labelPadding": 2, "labelFlush": false, "labelOverlap": false}
}
}
